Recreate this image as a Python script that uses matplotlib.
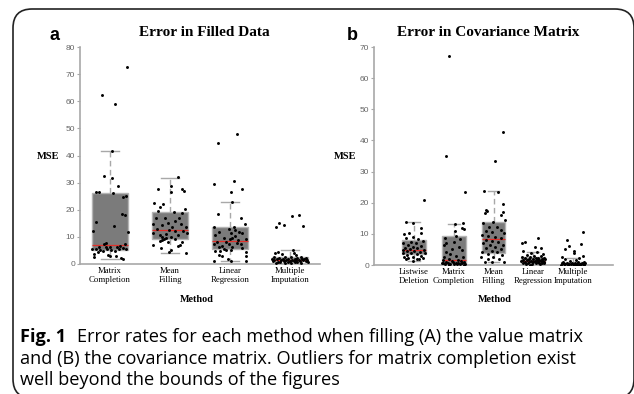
import matplotlib
matplotlib.use("Agg")
import matplotlib.pyplot as plt
from matplotlib.patches import FancyBboxPatch
import numpy as np

W, H = 634, 394

# ---------------- Panel a: error in filled data ----------------
cats_a = ["Matrix\nCompletion", "Mean\nFilling", "Linear\nRegression", "Multiple\nImputation"]
q1_a = [5.0, 9.2, 5.6, 1.1]
med_a = [7.1, 12.7, 8.3, 1.6]
q3_a = [26.3, 19.0, 13.7, 2.6]
lo_a = [1.8, 4.1, 1.1, 0.3]
hi_a = [41.6, 31.8, 22.8, 5.0]

mc_a_val = [72.5, 62.3, 59.0, 41.7, 32.6, 31.8, 28.8, 26.7, 26.4, 26.1, 24.8, 25.1, 18.5, 18.0,
            15.6, 14.0, 12.1, 11.7, 7.9, 7.3, 7.3, 6.8, 6.3, 6.2, 6.4, 6.2, 6.0, 5.4, 5.6, 5.2,
            4.8, 5.4, 5.2, 4.8, 5.5, 5.6, 4.4, 3.7, 3.3, 2.7, 3.0, 3.0, 2.1, 1.8]
mc_a_off = [0.28, -0.13, 0.08, 0.04, -0.10, 0.03, 0.13, -0.24, -0.19, 0.05, 0.22, 0.26, 0.20, 0.25,
            -0.23, 0.07, -0.28, 0.30, -0.07, -0.10, 0.25, 0.16, -0.18, -0.06, 0.00, 0.12, 0.22, -0.30, -0.23, -0.16,
            -0.12, -0.05, 0.01, 0.09, 0.15, 0.26, -0.20, -0.27, -0.03, -0.26, 0.00, 0.10, 0.19, 0.22]

mf_a_val = [32.0, 28.8, 27.7, 27.7, 26.9, 26.5, 22.4, 22.0, 20.9, 19.6, 19.3, 18.7, 20.2, 17.1,
            16.9, 17.1, 16.0, 14.8, 14.4, 15.0, 13.8, 14.8, 13.8, 12.8, 12.5, 12.3, 12.1, 11.3,
            10.7, 11.1, 10.7, 11.3, 9.8, 9.3, 8.9, 9.6, 9.8, 9.1, 8.6, 8.2, 8.1, 7.0, 7.0, 6.8,
            6.0, 5.1, 4.2, 4.6]
mf_a_off = [0.13, 0.01, -0.20, 0.20, 0.24, 0.02, -0.26, -0.12, -0.16, -0.20, 0.07, 0.20, 0.25, -0.23,
            -0.08, 0.15, 0.09, -0.28, -0.14, -0.03, 0.04, 0.18, 0.26, -0.21, -0.02, 0.08, 0.22, -0.29,
            -0.17, -0.07, 0.14, 0.29, -0.14, -0.10, -0.13, -0.06, 0.01, 0.08, -0.16, 0.20, -0.04, 0.17, -0.29, 0.14,
            -0.15, 0.01, 0.26, -0.01]

lr_a_val = [48.1, 44.6, 30.6, 29.4, 27.7, 26.5, 22.8, 18.3, 16.9, 14.6, 13.5, 12.9, 13.5, 12.5,
            11.9, 11.5, 11.9, 10.7, 10.3, 11.3, 9.5, 9.1, 9.5, 8.9, 9.1, 8.2, 8.0, 7.9, 7.4, 7.3,
            7.4, 6.6, 6.4, 6.2, 6.0, 5.4, 5.2, 5.2, 4.8, 4.9, 4.5, 3.3, 3.0, 3.0, 1.7, 1.1, 1.1, 1.1]
lr_a_off = [0.12, -0.20, 0.07, -0.26, 0.20, 0.02, 0.04, -0.20, 0.18, 0.25, -0.27, -0.02, 0.07, 0.09,
            -0.18, 0.02, 0.15, -0.25, 0.09, 0.20, -0.10, 0.00, 0.04, 0.14, 0.26, -0.21, -0.06, 0.11, -0.27, -0.02,
            0.19, -0.13, 0.04, -0.18, 0.20, -0.10, -0.07, 0.02, -0.25, -0.17, 0.26, -0.18, -0.14, 0.27, -0.03, -0.27, 0.26, 0.01]

mi_a_val = [18.2, 17.7, 15.0, 14.4, 14.0, 13.8, 5.2, 4.5, 3.9, 3.9, 3.6, 3.3, 2.7, 2.6, 2.5, 2.4,
            2.3, 2.2, 2.1, 2.0, 2.0, 1.9, 1.8, 1.8, 1.7, 1.7, 1.6, 1.6, 1.5, 1.5, 1.4, 1.4, 1.3,
            1.3, 1.2, 1.2, 1.1, 1.1, 1.0, 1.0, 0.9, 0.9, 0.8, 0.8, 0.7, 0.6, 0.5, 0.5, 0.4, 0.3]
mi_a_off = [0.15, 0.04, -0.18, -0.10, 0.22, -0.23, 0.05, -0.20, -0.25, 0.06, -0.14, 0.10, -0.27, 0.18, 0.02, -0.08,
            0.27, -0.18, 0.12, -0.03, 0.24, -0.30, 0.08, -0.12, 0.20, -0.22, 0.03, 0.29, -0.06, 0.15, -0.26, 0.10, -0.15,
            0.22, 0.00, -0.28, 0.17, -0.10, 0.06, 0.26, -0.20, 0.12, -0.04, 0.30, -0.16, 0.08, -0.24, 0.19, -0.08, 0.02]

# ---------------- Panel b: error in covariance matrix ----------------
cats_b = ["Listwise\nDeletion", "Matrix\nCompletion", "Mean\nFilling", "Linear\nRegression", "Multiple\nImputation"]
q1_b = [3.4, 0.4, 4.0, 0.7, 0.05]
med_b = [4.7, 1.7, 8.4, 1.4, 0.3]
q3_b = [8.1, 9.3, 13.9, 2.5, 1.0]
lo_b = [1.4, 0.0, 1.0, 0.0, 0.0]
hi_b = [13.8, 13.2, 23.8, 4.3, 2.1]

ld_b_val = [20.9, 13.7, 13.4, 12.0, 10.0, 10.2, 10.2, 9.1, 8.6, 8.3, 7.7, 7.5, 7.0, 7.0, 6.4, 6.2,
            5.9, 5.4, 5.4, 5.0, 4.8, 4.8, 4.5, 4.5, 4.3, 4.0, 3.8, 3.5, 3.8, 3.2, 2.9, 2.5, 2.5,
            1.9, 2.1, 2.1, 1.8, 1.4, 1.8]
ld_b_off = [0.26, -0.20, -0.02, 0.17, -0.25, -0.12, 0.18, -0.02, -0.20, 0.11, 0.23, -0.08, -0.27, 0.05, -0.14, 0.19,
            -0.03, -0.22, 0.08, -0.10, -0.28, 0.25, -0.17, 0.01, 0.15, -0.27, -0.06, 0.09, 0.27, -0.18, 0.19, -0.24, -0.02,
            0.07, -0.14, 0.23, -0.20, -0.02, 0.13]

mc_b_val = [67.0, 35.0, 23.6, 13.2, 13.4, 11.5, 11.9, 10.9, 9.4, 8.6, 8.3, 7.5, 7.0, 6.4, 5.9, 5.0,
            4.3, 4.8, 3.5, 2.7, 2.9, 2.5, 2.0, 1.7, 1.5, 1.3, 1.2, 1.0, 0.9, 0.8, 0.7, 0.6, 0.5,
            0.5, 0.4, 0.3, 0.3, 0.2, 0.2, 0.1, 0.1, 1.1, 0.6, 0.4]
mc_b_off = [-0.12, -0.18, 0.28, 0.03, 0.24, 0.26, 0.20, 0.03, 0.07, -0.22, 0.15, 0.00, -0.18, -0.25, 0.13, -0.03,
            -0.18, 0.20, -0.08, -0.25, 0.07, 0.24, -0.12, 0.10, -0.28, 0.18, -0.05, 0.27, -0.20, 0.05, -0.15, 0.22, -0.30,
            0.12, -0.08, 0.28, -0.22, 0.02, 0.16, -0.12, 0.25, -0.02, -0.26, 0.09]

mf_b_val = [42.7, 33.4, 23.8, 23.4, 19.6, 17.7, 17.4, 16.9, 16.2, 16.6, 14.5, 13.7, 13.4, 12.3, 12.3,
            11.3, 11.0, 10.7, 10.2, 9.6, 9.3, 9.1, 8.6, 8.0, 7.7, 7.5, 7.0, 6.4, 6.4, 5.9, 5.4, 5.0,
            4.6, 4.3, 4.3, 3.5, 3.2, 2.7, 2.7, 1.9, 1.9, 1.1, 1.1, 1.1]
mf_b_off = [0.24, 0.03, -0.24, 0.12, 0.25, -0.18, -0.16, 0.25, 0.20, -0.22, 0.28, -0.01, -0.26, -0.11, 0.08,
            0.18, -0.19, -0.03, 0.26, -0.28, -0.13, 0.05, 0.18, -0.19, -0.03, 0.11, -0.26, -0.09, 0.25, 0.05, -0.19, 0.18,
            -0.05, -0.28, 0.10, -0.15, 0.22, -0.32, -0.01, -0.13, 0.14, -0.22, 0.26, -0.03]

lr_b_val = [8.6, 7.5, 7.2, 5.7, 5.3, 4.5, 4.2, 4.0, 3.6, 3.3, 3.0, 2.8, 2.6, 2.5, 2.4, 2.3, 2.2, 2.1,
            2.0, 1.9, 1.8, 1.8, 1.7, 1.6, 1.5, 1.5, 1.4, 1.4, 1.3, 1.2, 1.2, 1.1, 1.0, 1.0, 0.9,
            0.9, 0.8, 0.8, 0.7, 0.6, 0.5, 0.5, 0.4, 0.3, 0.2, 0.1]
lr_b_off = [0.11, -0.21, -0.28, 0.04, 0.20, -0.25, 0.10, -0.05, 0.24, -0.15, 0.02, 0.18, -0.28, -0.08, 0.27, 0.12,
            -0.20, 0.06, -0.02, 0.22, -0.12, 0.30, -0.26, 0.08, -0.17, 0.15, -0.05, 0.25, -0.30, 0.03, 0.19, -0.10,
            0.11, -0.22, 0.28, -0.02, 0.14, -0.27, 0.21, -0.13, 0.06, 0.26, -0.19, -0.04, 0.16, -0.08]

mi_b_val = [10.7, 8.0, 6.8, 6.1, 5.0, 4.5, 4.0, 2.9, 2.6, 2.2, 1.8, 1.5, 1.3, 1.1, 1.0, 0.9, 0.8,
            0.7, 0.6, 0.6, 0.5, 0.5, 0.4, 0.4, 0.3, 0.3, 0.3, 0.2, 0.2, 0.2, 0.1, 0.1, 0.1, 0.05,
            0.05, 0.3, 0.15, 0.25]
mi_b_off = [0.25, -0.15, 0.20, -0.11, -0.21, 0.03, 0.02, 0.24, -0.27, 0.15, -0.20, 0.08, -0.08, 0.28, -0.25,
            0.12, -0.02, 0.22, -0.15, 0.05, 0.30, -0.28, 0.16, -0.10, 0.00, 0.25, -0.20, 0.10, -0.05, 0.20, -0.30,
            0.07, 0.27, -0.14, 0.14, -0.24, 0.02, 0.18]

TITLE_A = "Error in Filled Data"
TITLE_B = "Error in Covariance Matrix"
YLABEL = "MSE"
XLABEL = "Method"
CAPTION_HEAD = "Fig. 1"
CAPTION_LINES = [
    "Error rates for each method when filling (A) the value matrix",
    "and (B) the covariance matrix. Outliers for matrix completion exist",
    "well beyond the bounds of the figures",
]

SERIF = "Liberation Serif"
SANS = "Liberation Sans"
BOX_FACE = "#7b7b7b"
BOX_EDGE = "#b4b4b4"
AXIS_GRAY = "#a8a8a8"
MED_RED = "#e0302a"

fig = plt.figure(figsize=(W / 100, H / 100), dpi=100)


def fx(x):
    return x / W


def fy(y):
    return 1 - y / H


def draw_panel(rect, cats, q1, med, q3, lo, hi, groups, ylim, yticks, xlim):
    ax = fig.add_axes(rect)
    pos = np.arange(1, len(cats) + 1)
    stats = []
    for i in range(len(cats)):
        stats.append(dict(q1=q1[i], med=med[i], q3=q3[i], whislo=lo[i], whishi=hi[i], fliers=[]))
    ax.bxp(stats, positions=pos, widths=0.6, patch_artist=True, showfliers=False,
           boxprops=dict(facecolor=BOX_FACE, edgecolor=BOX_EDGE, linewidth=1.0),
           medianprops=dict(color=MED_RED, linewidth=0.9),
           whiskerprops=dict(color=AXIS_GRAY, linewidth=1.0, linestyle=(0, (4, 2.5))),
           capprops=dict(color=AXIS_GRAY, linewidth=1.0),
           capwidths=0.3)
    for i, (vals, offs) in enumerate(groups):
        ax.scatter(pos[i] + np.asarray(offs), vals, s=4.5, c="black", linewidths=0, zorder=5)
    ax.set_xlim(*xlim)
    ax.set_ylim(*ylim)
    ax.set_yticks(yticks)
    ax.set_xticks(pos)
    ax.set_xticklabels(cats, fontfamily=SERIF, fontsize=6.3, linespacing=1.05)
    ax.tick_params(axis="x", length=0, pad=2.5)
    ax.tick_params(axis="y", length=2, width=0.8, color=AXIS_GRAY, labelsize=6,
                   labelcolor="#666666", pad=1.5)
    for lab in ax.get_yticklabels():
        lab.set_fontfamily(SANS)
    for s in ("top", "right"):
        ax.spines[s].set_visible(False)
    for s in ("left", "bottom"):
        ax.spines[s].set_color(AXIS_GRAY)
        ax.spines[s].set_linewidth(1.2)
    ax.patch.set_alpha(0)
    return ax


groups_a = [(mc_a_val, mc_a_off), (mf_a_val, mf_a_off), (lr_a_val, lr_a_off), (mi_a_val, mi_a_off)]
groups_b = [(ld_b_val, ld_b_off), (mc_b_val, mc_b_off), (mf_b_val, mf_b_off),
            (lr_b_val, lr_b_off), (mi_b_val, mi_b_off)]

draw_panel([fx(80), fy(264), (320 - 80) / W, (264 - 47) / H], cats_a, q1_a, med_a, q3_a, lo_a, hi_a,
           groups_a, (0, 80), np.arange(0, 81, 10), (0.5, 4.5))
draw_panel([fx(374), fy(265), (613 - 374) / W, (265 - 47) / H], cats_b, q1_b, med_b, q3_b, lo_b, hi_b,
           groups_b, (0, 70), np.arange(0, 71, 10), (0.0, 6.0))

# panel titles, letters and axis labels
fig.text(fx(204), fy(32), TITLE_A, fontfamily=SERIF, fontweight="bold", fontsize=11, ha="center", va="center")
fig.text(fx(488), fy(32), TITLE_B, fontfamily=SERIF, fontweight="bold", fontsize=11, ha="center", va="center")
fig.text(fx(55), fy(36), "a", fontfamily=SANS, fontweight="bold", fontsize=13, ha="center", va="center")
fig.text(fx(352), fy(36), "b", fontfamily=SANS, fontweight="bold", fontsize=13, ha="center", va="center")
fig.text(fx(48), fy(156), YLABEL, fontfamily=SERIF, fontweight="bold", fontsize=7.5, ha="center", va="center")
fig.text(fx(345), fy(156), YLABEL, fontfamily=SERIF, fontweight="bold", fontsize=7.5, ha="center", va="center")
fig.text(fx(197), fy(299), XLABEL, fontfamily=SERIF, fontweight="bold", fontsize=7.3, ha="center", va="center")
fig.text(fx(495), fy(299), XLABEL, fontfamily=SERIF, fontweight="bold", fontsize=7.3, ha="center", va="center")

# caption
CAP_FONT = "Open Sans"
CAP_SIZE = 13.1
renderer = fig.canvas.get_renderer()
head = fig.text(fx(20), fy(337), CAPTION_HEAD, fontfamily=CAP_FONT, fontweight="bold", fontsize=CAP_SIZE,
                ha="left", va="center")
hw = head.get_window_extent(renderer).width
fig.text(fx(20 + hw + 11), fy(337), CAPTION_LINES[0], fontfamily=CAP_FONT, fontsize=CAP_SIZE,
         ha="left", va="center")
fig.text(fx(20), fy(358.5), CAPTION_LINES[1], fontfamily=CAP_FONT, fontsize=CAP_SIZE, ha="left", va="center")
fig.text(fx(20), fy(380), CAPTION_LINES[2], fontfamily=CAP_FONT, fontsize=CAP_SIZE, ha="left", va="center")

# rounded frame around the figure
frame = FancyBboxPatch((fx(13), fy(398)), fx(634 - 13), (398 - 9) / H,
                       boxstyle="round,pad=0,rounding_size=0.03", transform=fig.transFigure,
                       facecolor="none", edgecolor="#222222", linewidth=1.2, clip_on=False,
                       mutation_aspect=W / H)
fig.patches.append(frame)

fig.savefig("out.png", dpi=100)
